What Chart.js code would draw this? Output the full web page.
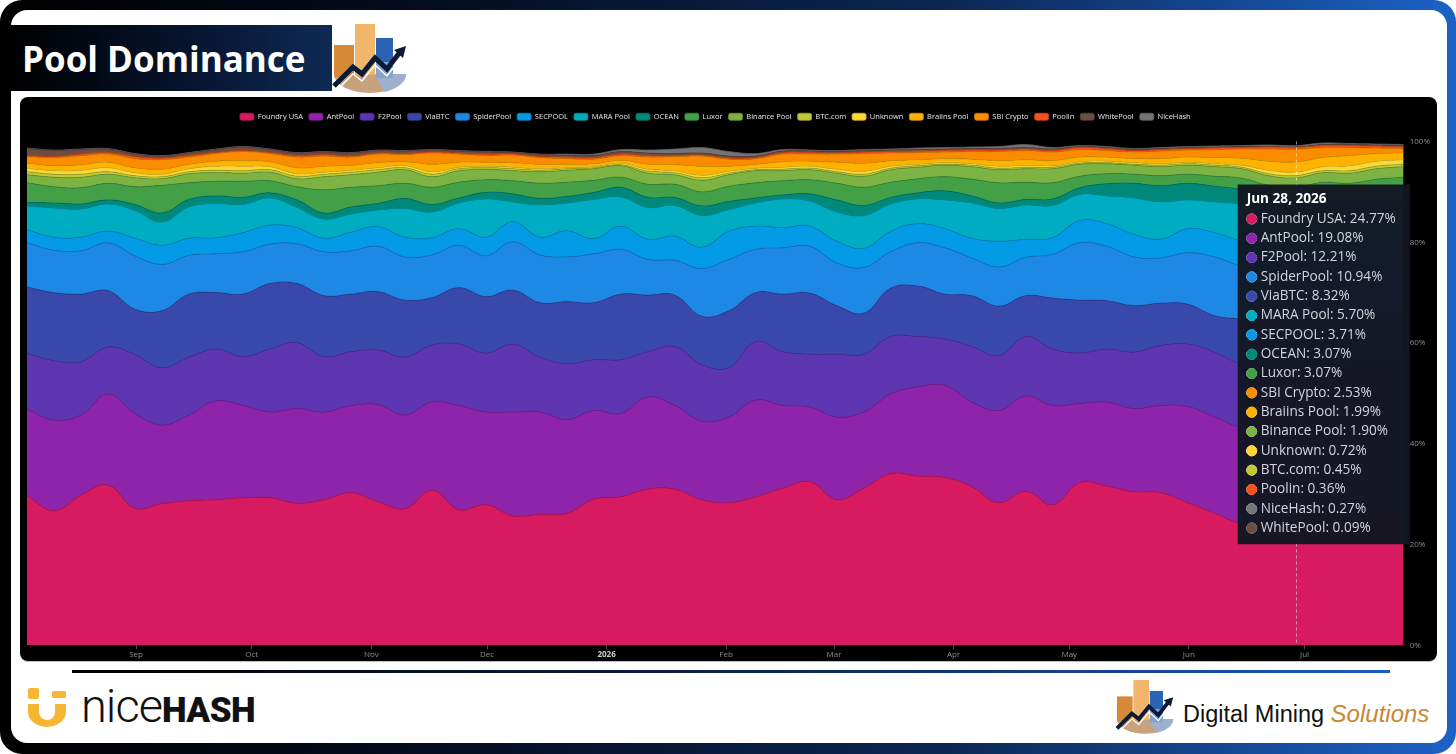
<!DOCTYPE html>
<html>
<head>
<meta charset="utf-8">
<script src="https://cdn.jsdelivr.net/npm/chart.js@4.4.1/dist/chart.umd.min.js"></script>
<style>
  html, body { margin: 0; padding: 0; background: #fff; width: 1456px; height: 754px; overflow: hidden; }
  #frame { position: absolute; left: 0; top: 0; width: 1456px; height: 754px; border-radius: 22px;
    background: linear-gradient(90deg, #000 0%, #040d20 30%, #0b2754 65%, #1c62c6 100%); }
  #panel { position: absolute; left: 11px; top: 10px; width: 1436px; height: 733px; background: #fff; border-radius: 16px; }
  #titleBand { position: absolute; left: 10px; top: 25px; width: 322px; height: 66px;
    background: linear-gradient(90deg, #000 0%, #06142e 55%, #0e2a55 100%); }
  #title { position: absolute; left: 22px; top: 35px; font-family: "Open Sans", sans-serif; font-weight: 700;
    font-size: 35px; line-height: 48px; color: #fff; white-space: nowrap; }
  #chartBox { position: absolute; left: 20px; top: 97px; width: 1417px; height: 564px; background: #000;
    border-radius: 8px; overflow: hidden; box-shadow: 0 1px 0 #bdbdbd; }
  #chartBox canvas { display: block; }
  #rule { position: absolute; left: 72px; top: 670px; width: 1318px; height: 3px;
    background: linear-gradient(90deg, #000 0%, #0a1d40 45%, #1a5cc0 100%); }
  #nhText { position: absolute; left: 81px; top: 682px; white-space: nowrap; color: #111; line-height: 1; }
  #nhText .nice { font-family: Roboto, sans-serif; font-weight: 300; font-size: 47px; letter-spacing: -1px; }
  #nhText .hash { font-family: Roboto, sans-serif; font-weight: 900; font-size: 35px; letter-spacing: -0.5px; }
  #dmsText { position: absolute; left: 1183px; top: 700px; white-space: nowrap; line-height: 28px; }
  #dmsText .dm { font-family: "Liberation Sans", Arial, sans-serif; color: #111; font-size: 23.5px; }
  #dmsText .sol { font-family: "Liberation Sans", Arial, sans-serif; font-style: italic; color: #c98632; font-size: 24px; }
  svg { position: absolute; overflow: visible; }
</style>
</head>
<body>
<div id="frame"></div>
<div id="panel"></div>
<div id="titleBand"></div>
<div id="title">Pool Dominance</div>

<svg style="left:0;top:0" width="1456" height="754">
  <defs>
    <g id="dmsMark">
      <path d="M0 50 A36 19 0 0 0 72 50 Z" fill="#c8a27c"/>
      <path d="M41 50 L72 50 A36 19 0 0 1 50 68 Z" fill="#9db1cd"/>
      <rect x="0" y="21" width="20" height="32" fill="#d68a38"/>
      <rect x="21" y="0" width="20" height="51" fill="#f2b56c"/>
      <rect x="42" y="14" width="17" height="24" fill="#2b64b4"/>
      <rect x="42" y="38" width="17" height="16" fill="#86a3cc"/>
      <polyline points="0,62 19,43 28,50 41,34 53,45 66,28" fill="none" stroke="#0b1a36" stroke-width="5"/>
      <polyline points="1,68 19,50 28,57 41,41 53,52 66,35" fill="none" stroke="#ffffff" stroke-width="1.5"/>
      <path d="M60 26 L72 22 L69 34 Z" fill="#0b1a36"/>
    </g>
  </defs>
  <use href="#dmsMark" transform="translate(334,24)"/>
  <use href="#dmsMark" transform="translate(1117,680) scale(0.78)"/>
  <rect x="28" y="688" width="11" height="11" rx="2" fill="#f5b633"/>
  <rect x="52" y="691" width="14" height="7" rx="1.5" fill="#f5b633"/>
  <path d="M28 704 H39 V712 A8 8 0 0 0 55 712 V704 H66 V712 A19 15 0 0 1 28 712 Z" fill="#f5b633"/>
</svg>

<div id="chartBox"><canvas id="c" width="1417" height="564"></canvas></div>
<div id="rule"></div>
<div id="nhText"><span class="nice">nice</span><span class="hash">HASH</span></div>
<div id="dmsText"><span class="dm">Digital Mining </span><span class="sol">Solutions</span></div>

<script>
// ---------- data ----------
const seriesNames = ['Foundry USA','AntPool','F2Pool','ViaBTC','SpiderPool','SECPOOL','MARA Pool','OCEAN','Luxor',
  'Binance Pool','BTC.com','Unknown','Braiins Pool','SBI Crypto','Poolin','WhitePool','NiceHash'];
const seriesColors = ['#D81B60','#8E24AA','#5E35B1','#3949AB','#1E88E5','#039BE5','#00ACC1','#00897B','#43A047',
  '#7CB342','#C0CA33','#FDD835','#FFB300','#FB8C00','#F4511E','#6D4C41','#757575'];

const firstWeek = '2025-08-03';   // weekly samples (Sundays)
const weekCount = 52;
const hoverIndex = 47;            // Jun 28, 2026

const foundryUSA = [29.7,26.7,29.8,31.8,27.2,28.1,28.7,28.9,29.3,29.3,28.2,28.9,30.3,28.5,27.1,30.8,26.9,27.9,25.7,26.0,
  26.2,29.0,29.5,31.0,31.0,28.9,28.3,29.5,31.2,32.5,28.9,31.2,34.1,33.6,33.3,31.5,28.3,30.6,27.9,32.3,
  31.6,30.5,30.3,28.3,26.2,24.2,24.5,24.77,25.4,24.9,25.8,26.3];
const antPool = [17.1,18.0,15.9,18.1,18.8,15.6,17.0,19.6,18.3,17.0,18.8,17.4,17.3,19.3,18.6,17.5,20.7,18.4,20.6,20.3,
  18.6,17.6,16.5,18.3,16.6,15.6,17.0,19.2,16.4,14.8,16.4,15.1,15.8,17.7,18.3,16.8,18.3,18.9,19.7,15.7,
  16.7,16.5,17.3,19.1,19.1,19.1,19.0,19.08,19.1,19.1,19.0,18.9];
const f2Pool = [11.2,11.8,10.6,9.3,11.7,11.4,11.5,10.3,9.7,12.5,13.1,11.0,10.7,10.8,11.5,11.3,12.2,11.7,13.5,10.9,
  11.1,10.1,10.7,9.0,11.7,11.2,9.8,11.6,10.7,10.5,12.5,11.5,11.4,10.0,9.2,11.0,10.9,11.8,11.2,10.0,
  10.5,11.2,11.9,12.4,12.9,12.6,12.3,12.21,12.3,12.2,12.2,12.3];
const viaBTC = [13.1,13.5,13.4,11.2,9.0,11.3,12.5,11.2,12.4,13.0,11.7,12.1,11.4,11.6,11.3,9.4,11.2,11.2,10.7,10.8,
  12.3,11.3,13.0,11.2,10.2,9.6,11.3,9.7,11.4,12.1,9.6,8.1,9.6,10.0,8.9,10.1,9.8,8.1,10.1,10.5,
  9.6,9.2,8.4,7.9,7.2,8.9,8.7,8.32,8.4,8.4,8.5,8.5];
const spiderPool = [8.8,8.4,8.6,9.5,10.6,9.2,7.7,7.7,8.4,7.8,7.9,8.7,8.6,9.0,8.6,8.5,8.4,8.1,9.6,9.5,
  8.9,9.7,8.9,7.1,6.9,9.5,10.2,8.6,9.2,9.3,8.5,9.1,7.2,8.6,9.2,7.5,7.8,7.6,8.7,11.4,
  10.8,9.7,9.0,10.2,11.7,10.5,10.5,10.94,10.8,11.0,10.8,10.8];
const secPool = [2.6,2.6,2.7,2.3,3.5,3.8,3.4,3.2,3.8,3.8,3.2,2.7,3.7,3.9,3.9,3.4,3.3,3.7,4.0,3.5,
  5.2,3.0,4.6,4.0,4.8,4.2,5.6,4.6,4.0,4.0,4.3,3.8,4.1,3.8,3.8,3.9,5.1,3.6,3.3,4.4,
  4.5,4.5,3.7,4.8,4.8,4.9,4.3,3.71,3.8,3.8,3.7,3.7];
const maraPool = [4.7,5.8,5.6,5.4,5.5,4.6,6.2,6.8,5.6,5.4,4.0,3.8,3.6,3.3,5.7,5.1,5.1,7.6,3.9,6.4,
  5.5,7.8,5.8,6.3,6.1,6.3,4.3,4.6,5.7,5.0,5.8,6.5,5.4,4.9,5.7,7.0,6.5,6.8,6.4,5.2,
  5.5,7.2,7.4,5.7,6.1,7.3,6.2,5.70,5.7,5.8,6.0,5.9];
const ocean = [0.7,1.0,1.0,0.8,1.2,1.8,1.5,1.5,1.4,1.0,1.5,1.2,1.4,1.3,2.0,1.5,1.0,1.3,1.6,1.3,
  1.3,1.4,1.9,2.0,1.6,1.9,1.6,1.0,0.8,1.4,2.4,2.0,1.3,1.2,1.8,1.4,1.1,1.1,1.3,1.3,
  2.4,2.9,3.2,3.3,3.1,2.9,3.0,3.07,2.9,2.7,2.6,2.5];
const luxor = [3.9,3.2,3.2,3.3,3.5,5.5,3.3,2.9,3.2,2.4,2.6,4.6,3.9,3.5,3.0,3.4,3.1,2.5,2.6,3.0,
  2.8,2.4,2.0,2.6,2.6,2.8,3.0,3.0,2.8,2.8,3.3,3.6,3.0,2.8,2.8,3.3,4.0,3.4,3.2,2.3,
  2.0,1.8,2.0,1.8,2.0,2.3,2.8,3.07,3.5,3.8,3.9,4.0];
const binancePool = [1.6,1.9,2.1,1.8,1.8,1.3,1.8,1.7,1.6,1.7,1.6,2.6,2.5,2.7,2.7,2.1,2.3,2.1,2.0,2.3,
  2.4,2.3,2.3,2.2,1.9,2.3,2.3,2.4,2.0,2.0,2.0,2.2,2.5,2.3,2.3,2.5,2.6,2.7,2.8,2.4,
  2.0,1.8,1.8,1.8,1.9,1.9,1.9,1.90,1.9,2.0,2.1,2.1];
const btcCom = [0.6,0.6,0.6,0.5,0.4,0.4,0.4,0.5,0.5,0.5,0.5,0.5,0.5,0.5,0.4,0.5,0.4,0.3,0.4,0.3,
  0.3,0.2,0.2,0.4,0.4,0.5,0.3,0.2,0.3,0.3,0.3,0.4,0.3,0.3,0.2,0.3,0.3,0.3,0.3,0.2,
  0.2,0.2,0.3,0.3,0.3,0.3,0.4,0.45,0.4,0.5,0.5,0.5];
const unknownPool = [0.7,0.7,0.8,0.8,0.6,0.5,0.6,0.8,0.9,0.6,0.5,0.4,0.4,0.4,0.4,0.5,0.3,0.3,0.3,0.3,
  0.2,0.2,0.3,0.4,0.4,0.5,0.4,0.3,0.4,0.4,0.5,0.6,0.4,0.3,0.3,0.3,0.4,0.4,0.3,0.3,
  0.3,0.3,0.3,0.3,0.3,0.4,0.7,0.72,0.8,1.0,1.0,0.9];
const braiinsPool = [1.0,1.0,1.1,1.1,1.0,1.0,0.9,1.0,1.1,1.0,1.2,1.2,1.0,1.0,0.8,1.5,1.0,0.8,0.9,0.9,
  0.7,0.6,0.6,1.0,1.2,1.8,1.0,0.8,1.1,1.0,1.4,1.6,1.1,0.9,0.8,0.9,1.1,1.1,1.0,0.9,
  0.8,0.8,1.0,1.0,1.2,1.4,1.8,1.99,1.8,2.0,1.5,1.3];
const sbiCrypto = [1.3,1.6,1.8,1.6,1.8,1.9,1.4,1.5,1.8,1.6,2.1,2.0,1.6,1.7,1.4,2.2,1.6,1.3,1.5,1.3,
  1.1,0.9,0.9,1.4,1.6,2.0,1.4,1.1,1.5,1.4,1.6,1.9,1.5,1.4,1.3,1.5,1.8,1.8,1.7,1.5,
  1.3,1.3,1.5,1.4,1.6,1.8,2.4,2.53,2.0,1.6,1.1,0.9];
const poolin = [0.2,0.2,0.3,0.3,0.4,0.3,0.3,0.2,0.2,0.2,0.3,0.3,0.2,0.2,0.2,0.2,0.2,0.3,0.2,0.2,
  0.3,0.3,0.3,0.3,0.2,0.2,0.2,0.2,0.3,0.3,0.2,0.3,0.3,0.3,0.3,0.3,0.3,0.3,0.3,0.4,
  0.4,0.3,0.3,0.3,0.3,0.3,0.4,0.36,0.4,0.4,0.4,0.4];
const whitePool = [1.4,1.2,0.9,0.7,0.5,0.4,0.5,0.6,0.7,0.6,0.5,0.5,0.6,0.5,0.5,0.4,0.4,0.4,0.3,0.4,
  0.4,0.4,0.5,0.5,0.4,0.4,0.4,0.3,0.3,0.3,0.3,0.3,0.3,0.3,0.3,0.3,0.3,0.3,0.3,0.2,
  0.2,0.2,0.2,0.2,0.2,0.2,0.1,0.09,0.2,0.2,0.2,0.2];
const niceHash = [0.1,0.1,0.1,0.1,0.1,0.1,0.1,0.1,0.1,0.1,0.1,0.1,0.1,0.1,0.1,0.1,0.1,0.1,0.1,0.1,
  0.2,0.3,0.4,0.6,0.9,1.1,0.9,0.5,0.3,0.2,0.2,0.2,0.2,0.3,0.3,0.3,0.4,0.6,0.3,0.2,
  0.2,0.2,0.2,0.2,0.2,0.2,0.3,0.27,0.3,0.2,0.2,0.2];

const seriesValues = [foundryUSA, antPool, f2Pool, viaBTC, spiderPool, secPool, maraPool, ocean, luxor,
  binancePool, btcCom, unknownPool, braiinsPool, sbiCrypto, poolin, whitePool, niceHash];

const monthTickDates = ['2025-09-01','2025-10-01','2025-11-01','2025-12-01','2026-01-01','2026-02-01',
  '2026-03-01','2026-04-01','2026-05-01','2026-06-01','2026-07-01'];
const monthTickLabels = ['Sep','Oct','Nov','Dec','2026','Feb','Mar','Apr','May','Jun','Jul'];
const yTickValues = [0, 20, 40, 60, 80, 100];

// ---------- helpers ----------
const DAY = 86400000;
const pointHour = 17; // sample time of day (UTC)
const MON = ['Jan','Feb','Mar','Apr','May','Jun','Jul','Aug','Sep','Oct','Nov','Dec'];
const t0 = Date.parse(firstWeek + 'T00:00:00Z');
const weekTimes = Array.from({length: weekCount}, (_, i) => t0 + i * 7 * DAY + pointHour * 3600000);
const toDays = ms => ms / DAY;
const xValues = weekTimes.map(toDays);
const monthTickValues = monthTickDates.map(d => toDays(Date.parse(d + 'T00:00:00Z')));
const fmtDate = ms => { const d = new Date(ms); return MON[d.getUTCMonth()] + ' ' + d.getUTCDate() + ', ' + d.getUTCFullYear(); };
function shade(hex, f) {
  const n = parseInt(hex.slice(1), 16);
  const r = Math.round(((n >> 16) & 255) * f), g = Math.round(((n >> 8) & 255) * f), b = Math.round((n & 255) * f);
  return `rgb(${r},${g},${b})`;
}

const datasets = seriesNames.map((name, d) => ({
  label: name,
  data: seriesValues[d].map((v, i) => ({x: xValues[i], y: v})),
  backgroundColor: seriesColors[d],
  borderColor: shade(seriesColors[d], 0.82),
  borderWidth: 0.8,
  pointRadius: 0,
  tension: 0.4,
  fill: d === 0 ? 'origin' : '-1'
}));

Chart.Tooltip.positioners.fixedBox = function (elements, eventPosition) {
  const chart = this.chart;
  const x = chart.scales.x.getPixelForValue(xValues[hoverIndex]);
  return { x: x - 58, y: chart.chartArea.top + 43, xAlign: 'left', yAlign: 'top' };
};

const legendSpacer = {
  id: 'legendSpacer',
  afterInit(chart) {
    const orig = chart.legend.fit;
    chart.legend.fit = function () { orig.call(this); this.height += 11; };
  },
  afterLayout(chart) {
    // centre the legend over the plot area rather than the whole canvas
    const shift = (chart.chartArea.left + chart.chartArea.right) / 2 - (chart.legend.left + chart.legend.right) / 2;
    chart.legend.left += shift; chart.legend.right += shift;
  }
};

const hoverLine = {
  id: 'hoverLine',
  afterDatasetsDraw(chart) {
    const x = Math.round(chart.scales.x.getPixelForValue(xValues[hoverIndex])) + 0.5;
    const {top, bottom} = chart.chartArea;
    const ctx = chart.ctx;
    ctx.save();
    ctx.strokeStyle = 'rgba(255,255,255,0.55)';
    ctx.lineWidth = 1;
    ctx.setLineDash([3, 3]);
    ctx.beginPath(); ctx.moveTo(x, top); ctx.lineTo(x, bottom); ctx.stroke();
    ctx.restore();
  }
};

const FONT = '"Open Sans", "Noto Sans", sans-serif';

const chart = new Chart(document.getElementById('c'), {
  type: 'line',
  data: { datasets },
  plugins: [legendSpacer, hoverLine],
  options: {
    responsive: false,
    animation: false,
    events: [],
    layout: { padding: { top: 10, left: 7, right: 1, bottom: 0 } },
    scales: {
      x: {
        type: 'linear',
        min: xValues[0], max: xValues[xValues.length - 1],
        afterBuildTicks: s => { s.ticks = monthTickValues.map(v => ({ value: v })); },
        ticks: {
          autoSkip: false, maxRotation: 0, padding: 1,
          callback: (v, i) => monthTickLabels[i],
          color: ctx => monthTickLabels[ctx.index] === '2026' ? '#cfcfcf' : '#8c8c8c',
          font: ctx => ({ family: FONT, size: 8, weight: monthTickLabels[ctx.index] === '2026' ? 'bold' : 'normal' })
        },
        grid: { display: true, drawOnChartArea: false, drawTicks: true, tickLength: 4, color: '#4a4a4a' },
        border: { display: false }
      },
      y: {
        position: 'right', stacked: true, min: 0, max: 100,
        afterBuildTicks: s => { s.ticks = yTickValues.map(v => ({ value: v })); },
        ticks: { callback: v => v + '%', color: '#8c8c8c', font: { family: FONT, size: 8 }, padding: 6 },
        grid: { display: false, drawTicks: false, tickLength: 0 },
        border: { display: false }
      }
    },
    plugins: {
      legend: {
        position: 'top',
        labels: { color: '#e6e6e6', font: { family: FONT, size: 7.5 }, boxWidth: 14, boxHeight: 7, padding: 6,
          useBorderRadius: true, borderRadius: 2 }
      },
      tooltip: {
        enabled: true,
        position: 'fixedBox',
        backgroundColor: 'rgba(19,23,34,0.97)',
        titleColor: '#ffffff',
        titleFont: { family: FONT, size: 13.6, weight: 'bold' },
        titleMarginBottom: 4,
        bodyColor: '#d1d4dc',
        bodyFont: { family: FONT, size: 13.6 },
        bodySpacing: 3.0,
        padding: { top: 6, bottom: 8, left: 9, right: 14 },
        cornerRadius: 0,
        caretSize: 0, caretPadding: 0,
        displayColors: true, usePointStyle: true,
        boxWidth: 10, boxHeight: 10, boxPadding: 2,
        borderWidth: 0,
        itemSort: (a, b) => b.parsed.y - a.parsed.y,
        callbacks: {
          title: items => fmtDate(weekTimes[items[0].dataIndex]),
          label: item => `${item.dataset.label}: ${item.parsed.y.toFixed(2)}%`,
          labelColor: item => ({ borderColor: seriesColors[item.datasetIndex], backgroundColor: seriesColors[item.datasetIndex] }),
          labelPointStyle: () => ({ pointStyle: 'circle', rotation: 0 })
        }
      }
    }
  }
});

const active = seriesNames.map((_, d) => ({ datasetIndex: d, index: hoverIndex }));
const hp = chart.scales.x.getPixelForValue(xValues[hoverIndex]);
chart.tooltip.setActiveElements(active, { x: hp, y: chart.chartArea.top + 43 });
chart.draw();
</script>
</body>
</html>
